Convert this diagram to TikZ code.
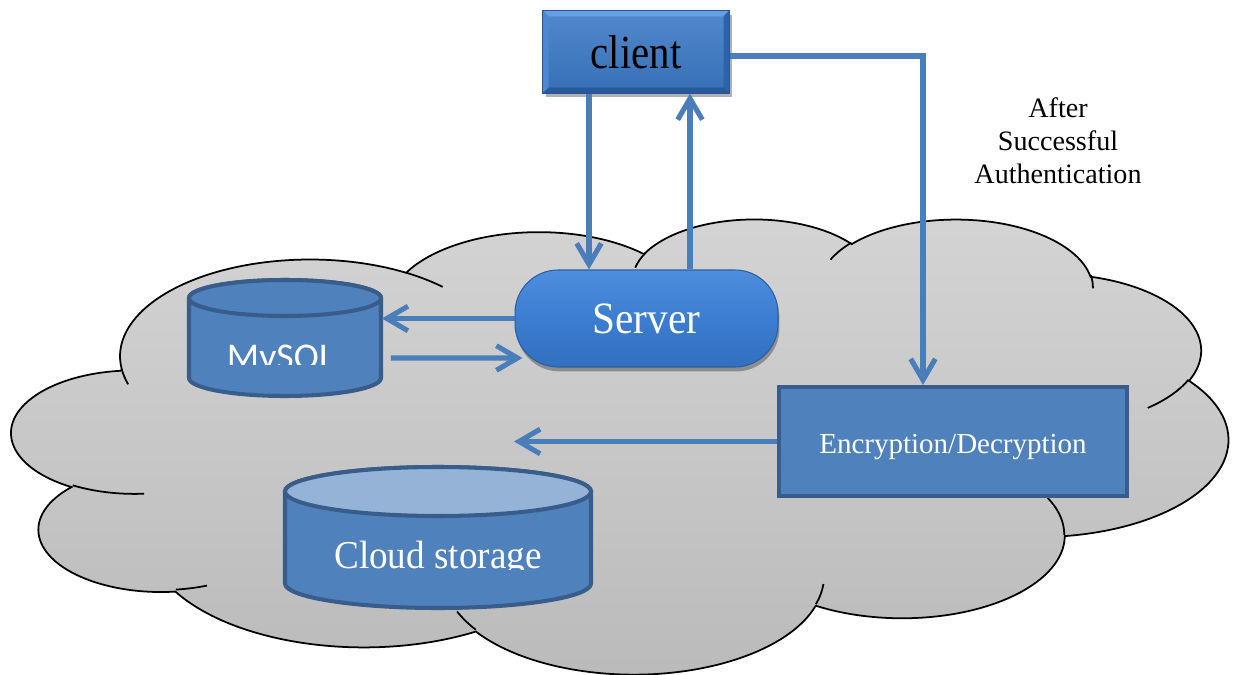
\documentclass[tikz,border=0pt]{standalone}
\usepackage{fontspec}
\usepackage{graphicx}
\setmainfont{Liberation Serif}
\newfontfamily\calibrifont{Carlito}
\usetikzlibrary{arrows.meta,shadows,calc}

\definecolor{linkblue}{HTML}{4A7EBB}
\definecolor{dbfill}{HTML}{4F81BD}
\definecolor{dbedge}{HTML}{385D8A}
\definecolor{dbtop}{HTML}{95B3D7}
\definecolor{cloudtop}{HTML}{D4D4D4}
\definecolor{cloudbot}{HTML}{BABABA}
\definecolor{bevface}{HTML}{3B79C6}
\definecolor{bevlight}{HTML}{62A0E6}
\definecolor{bevleft}{HTML}{4A88D3}
\definecolor{bevright}{HTML}{2C63AA}
\definecolor{bevdark}{HTML}{28599C}
\definecolor{bevline}{HTML}{2A5590}
\definecolor{pilltop}{HTML}{4D8EDD}
\definecolor{pillmid}{HTML}{3B7DD0}
\definecolor{pillbot}{HTML}{3270BF}

\tikzset{
  link/.style={draw=linkblue, line width=2.9pt, -{Straight Barb[length=12pt,width=14pt]}},
  dbline/.style={draw=dbedge, line width=2.3pt},
  cloudline/.style={draw=black, line width=1pt},
  clientbox/.style={rectangle, minimum width=3.72cm, minimum height=1.64cm, inner sep=0pt,
    top color=bevface!88!white, bottom color=bevface!92!black, draw=bevline, line width=0.6pt,
    drop shadow={shadow xshift=1.5pt, shadow yshift=-2.5pt, opacity=0.3, fill=black},
    font=\fontsize{27}{30}\selectfont, text=black},
  serverbox/.style={rectangle, rounded corners=0.86cm, minimum width=5.26cm, minimum height=1.94cm,
    inner sep=0pt, top color=pilltop, bottom color=pillbot, middle color=pillmid,
    draw=pillbot!85!black, line width=0.6pt,
    drop shadow={shadow xshift=0.8pt, shadow yshift=-2.5pt, opacity=0.3, fill=black},
    font=\fontsize{25.5}{28}\selectfont, text=white},
  cryptbox/.style={rectangle, minimum width=6.96cm, minimum height=2.18cm, inner sep=0pt,
    fill=dbfill, dbline, font=\fontsize{16.5}{19}\selectfont, text=white},
  dblabel/.style={inner sep=0pt, text=white, anchor=base},
}

\begin{document}
\begin{tikzpicture}[x=0.02cm, y=-0.02cm]
\useasboundingbox (0,0) rectangle (1233,675);
\fill[white] (0,0) rectangle (1233,675);

% ---- cloud outline (eleven lobes) and its inner folds ----
\begin{scope}[shift={(12,218)}, xscale=28.1481, yscale=10.5324]
  \path[top color=cloudtop, bottom color=cloudbot, cloudline]
    (3.900,14.370)
    arc[start angle=172.253, delta angle=128.107, x radius=6.753, y radius=9.190]
    arc[start angle=-152.037, delta angle=106.581, x radius=5.333, y radius=7.267]
    arc[start angle=-153.487, delta angle=116.160, x radius=4.365, y radius=5.945]
    arc[start angle=-139.703, delta angle=129.491, x radius=4.857, y radius=6.595]
    arc[start angle=-74.767, delta angle=97.974, x radius=5.333, y radius=7.273]
    arc[start angle=-37.527, delta angle=119.390, x radius=6.775, y radius=9.220]
    arc[start angle=0.460, delta angle=121.518, x radius=5.785, y radius=7.867]
    arc[start angle=16.842, delta angle=129.385, x radius=6.752, y radius=9.215]
    arc[start angle=58.989, delta angle=91.191, x radius=7.720, y radius=10.543]
    arc[start angle=83.306, delta angle=139.805, x radius=4.360, y radius=5.918]
    arc[start angle=120.356, delta angle=143.756, x radius=4.345, y radius=5.945]
    -- cycle;
  \draw[cloudline]
    (4.693,26.177) arc[start angle=85.547, delta angle=34.809, x radius=4.345, y radius=5.945]
    (6.928,34.899) arc[start angle=68.234, delta angle=15.072, x radius=4.360, y radius=5.918]
    (16.478,39.090) arc[start angle=146.227, delta angle=12.248, x radius=6.752, y radius=9.215]
    (28.827,34.751) arc[start angle=4.738, delta angle=12.104, x radius=6.752, y radius=9.215]
    (34.129,22.954) arc[start angle=-64.028, delta angle=64.488, x radius=5.785, y radius=7.867]
    (41.798,15.354) arc[start angle=23.207, delta angle=26.449, x radius=5.333, y radius=7.273]
    (38.324,5.426) arc[start angle=-10.212, delta angle=11.032, x radius=4.857, y radius=6.595]
    (29.078,3.952) arc[start angle=-156.273, delta angle=16.570, x radius=4.857, y radius=6.595]
    (22.141,4.720) arc[start angle=-167.726, delta angle=14.239, x radius=4.365, y radius=5.945]
    (14.000,5.192) arc[start angle=-59.640, delta angle=13.905, x radius=6.753, y radius=9.190]
    (4.127,15.789) arc[start angle=163.196, delta angle=9.057, x radius=6.753, y radius=9.190];
\end{scope}

% ---- MySQL cylinder ----
\draw[dbline, fill=dbfill] (189,298) -- (189,378)
  arc[start angle=180, delta angle=-180, x radius=96, y radius=18] -- (381,298)
  arc[start angle=0, delta angle=-180, x radius=96, y radius=18] -- cycle;
\draw[dbline, fill=dbfill] (285,298) ellipse[x radius=96, y radius=18];
\node[minimum width=3.86cm, minimum height=2.4cm, inner sep=0pt] (mysql) at (285,338) {};
\begin{scope}
  \clip (192,320) rectangle (378,364);
  \node[dblabel, font=\calibrifont\fontsize{21.5}{24}\selectfont] (mysqltext) at (281,369.5) {MySQL};
\end{scope}

% ---- cloud storage cylinder ----
\draw[dbline, fill=dbfill] (285,491.5) -- (285,583.5)
  arc[start angle=180, delta angle=-180, x radius=153, y radius=24.5] -- (591,491.5)
  arc[start angle=0, delta angle=-180, x radius=153, y radius=24.5] -- cycle;
\draw[dbline, fill=dbtop] (438,491.5) ellipse[x radius=153, y radius=24.5];
\begin{scope}
  \clip (290,520) rectangle (586,569);
  \node[dblabel, font=\fontsize{22.5}{25}\selectfont] (storage) at (438,568)
    {\scalebox{0.94}[1]{Cloud storage}};
\end{scope}

% ---- client with bevelled edges ----
\node[clientbox] (client) at (636,52) {\scalebox{0.86}[1]{client}};
\fill[bevlight] (client.north west) -- (client.north east) -- ($(client.north east)+(-6,6)$)
  -- ($(client.north west)+(6,6)$) -- cycle;
\fill[bevleft] (client.north west) -- ($(client.north west)+(6,6)$)
  -- ($(client.south west)+(6,-6)$) -- (client.south west) -- cycle;
\fill[bevright] (client.north east) -- (client.south east) -- ($(client.south east)+(-6,-6)$)
  -- ($(client.north east)+(-6,6)$) -- cycle;
\fill[bevdark] (client.south west) -- (client.south east) -- ($(client.south east)+(-6,-6)$)
  -- ($(client.south west)+(6,-6)$) -- cycle;
\draw[bevline, line width=0.6pt] (client.north west) rectangle (client.south east);

% ---- server and encryption ----
\node[serverbox] (server) at (646.5,318.5) {\scalebox{0.92}[1]{Server}};
\node[cryptbox] (crypt) at (953,441.5)
  {\raisebox{-2.6pt}[0.7em][0.22em]{Encryption/Decryption}};

\node[align=center, font=\fontsize{16}{18.7}\selectfont, inner sep=0pt] (auth) at (1058,141)
  {After\\Successful\\Authentication};

% ---- connectors ----
\coordinate (down) at ($(client.south)+(-47,0)$);
\coordinate (up) at ($(client.south)+(54,0)$);
\coordinate (drop) at ($(crypt.north)+(-30,0)$);
\coordinate (toStore) at ($(crypt.west)+(-263,0)$);

\draw[link] (down) -- (down |- server.north);
\draw[link] (up |- server.north) -- (up);
\draw[link] ($(client.east)+(0,4)$) -| (drop);
\draw[link] (server.west) -- (mysql.east |- server.west);
\draw[link] ($(mysql.east)+(9,20)$) -- ($(server.west)+(8,39.5)$);
\draw[link] (crypt.west) -- (toStore);
\end{tikzpicture}
\end{document}
